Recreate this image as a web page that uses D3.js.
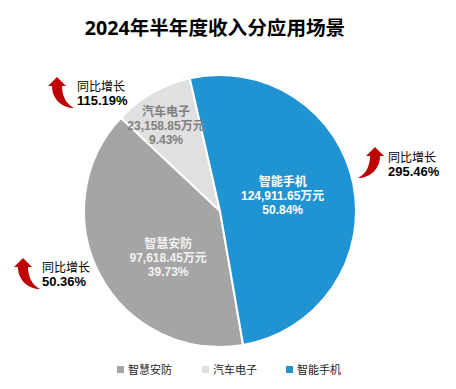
<!DOCTYPE html>
<html>
<head>
<meta charset="utf-8">
<script src="https://cdn.jsdelivr.net/npm/d3@7"></script>
<style>
html, body { margin: 0; padding: 0; background: #fff; }
svg { display: block; }
text { font-family: "Liberation Sans", "Noto Sans CJK SC", sans-serif; }
</style>
</head>
<body>
<div id="chart"></div>
<script>
const chartTitle = "2024年半年度收入分应用场景";
const categories = ["智慧安防", "汽车电子", "智能手机"];
const revenue = [97618.45, 23158.85, 124911.65];
const revenueLabels = ["97,618.45万元", "23,158.85万元", "124,911.65万元"];
const shareLabels = ["39.73%", "9.43%", "50.84%"];
const growthLabels = ["50.36%", "115.19%", "295.46%"];
const growthTitle = "同比增长";
const colors = ["#a5a5a5", "#e0e0e0", "#2094d2"];
const labelColors = ["#f2f2f2", "#7f7f7f", "#ffffff"];

const width = 456, height = 389;
const cx = 220, cy = 211, radius = 136;

const svg = d3.select("#chart")
    .append("svg")
    .attr("width", width)
    .attr("height", height);

svg.append("text")
    .attr("x", 215)
    .attr("y", 35)
    .attr("text-anchor", "middle")
    .attr("font-size", 19.6)
    .attr("font-weight", "bold")
    .style("font-family", '"Open Sans", "Noto Sans CJK SC", sans-serif')
    .attr("fill", "#000")
    .text(chartTitle);

// pie starts at the bottom, just right of 6 o'clock
const startAngle = 170.2 * Math.PI / 180;
const pie = d3.pie()
    .sort(null)
    .startAngle(startAngle)
    .endAngle(startAngle + 2 * Math.PI);
const arc = d3.arc().innerRadius(0).outerRadius(radius);
const arcs = pie(revenue);

const g = svg.append("g")
    .attr("transform", "translate(" + cx + "," + cy + ")");

g.selectAll("path")
    .data(arcs)
    .enter()
    .append("path")
    .attr("d", arc)
    .attr("fill", (d, i) => colors[i])
    .attr("stroke", "#fff")
    .attr("stroke-width", 2);

// slice labels, distance from centre as a fraction of the radius
const labelRadius = [0.6, 0.74, 0.5];
const labelShift = [[20, 7], [-4, 1], [-4, -3]];
arcs.forEach(function(d, i) {
    const mid = (d.startAngle + d.endAngle) / 2;
    const x = Math.sin(mid) * radius * labelRadius[i] + labelShift[i][0];
    const y = -Math.cos(mid) * radius * labelRadius[i] + labelShift[i][1];
    const t = g.append("text")
        .attr("text-anchor", "middle")
        .attr("font-size", 12)
        .attr("font-weight", "bold")
        .attr("fill", labelColors[i]);
    [categories[i], revenueLabels[i], shareLabels[i]].forEach(function(s, j) {
        t.append("tspan")
            .attr("x", x)
            .attr("y", y - 9 + j * 14)
            .text(s);
    });
});

// curved growth arrows, tip at origin
const arrowPath = "M0,0 L9,9 L5,9 C5,19 9,27 17,31 C6,31 -5,23 -5,9 L-9,9 Z";
const arrowPos = [
    { x: 23, y: 258, flip: 1 },
    { x: 57, y: 77, flip: 1 },
    { x: 375, y: 147, flip: -1 }
];
const growthPos = [[42, 272], [77, 91], [388, 162]];

arrowPos.forEach(function(p, i) {
    svg.append("path")
        .attr("d", arrowPath)
        .attr("transform", "translate(" + p.x + "," + p.y + ") scale(" + p.flip + ",1)")
        .attr("fill", "#c00000");
    svg.append("text")
        .attr("x", growthPos[i][0])
        .attr("y", growthPos[i][1])
        .attr("font-size", 12)
        .attr("fill", "#000")
        .text(growthTitle);
    svg.append("text")
        .attr("x", growthPos[i][0])
        .attr("y", growthPos[i][1] + 14)
        .attr("font-size", 13)
        .attr("font-weight", "bold")
        .attr("fill", "#000")
        .text(growthLabels[i]);
});

// legend
const legendX = [117, 202, 286];
categories.forEach(function(c, i) {
    svg.append("rect")
        .attr("x", legendX[i])
        .attr("y", 366)
        .attr("width", 7)
        .attr("height", 7)
        .attr("fill", colors[i]);
    svg.append("text")
        .attr("x", legendX[i] + 11)
        .attr("y", 374)
        .attr("font-size", 11)
        .attr("fill", "#222")
        .text(c);
});
</script>
</body>
</html>
